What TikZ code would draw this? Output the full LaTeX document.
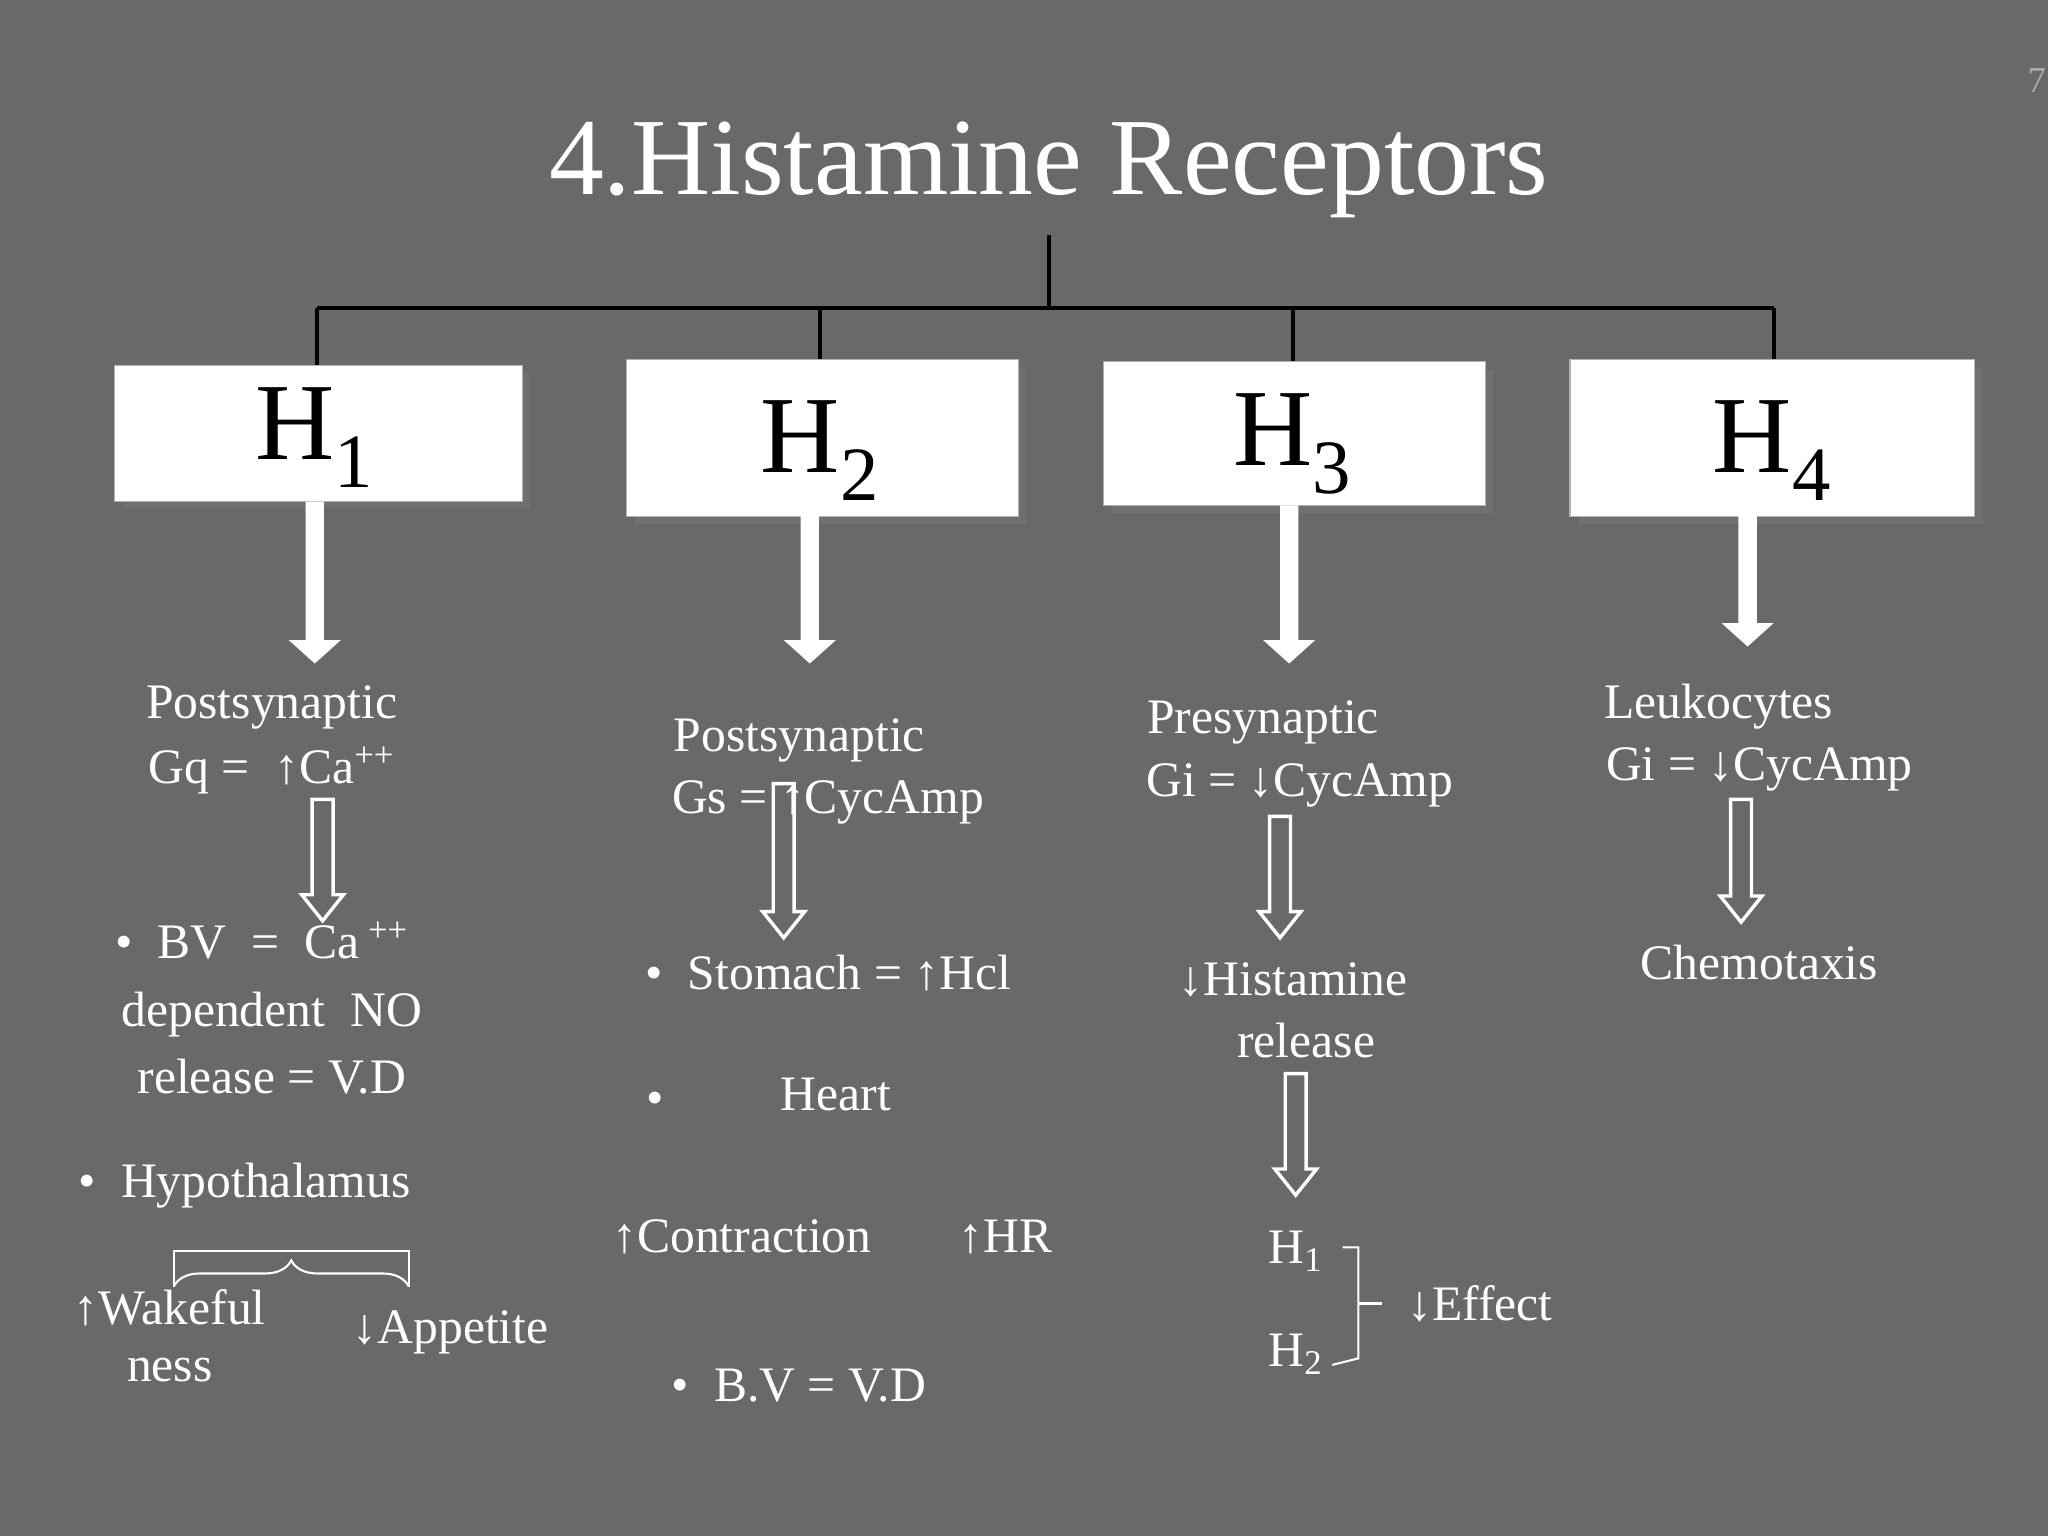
\documentclass[tikz,border=0pt]{standalone}
\usepackage{fontspec}
\setmainfont{Liberation Serif}
\usetikzlibrary{shadows,decorations.pathreplacing}
\begin{document}
\begin{tikzpicture}[x=0.5pt,y=-0.5pt,
  txt/.style={text=white,font=\fontsize{19}{22}\selectfont,inner sep=0pt,align=center},
  hbox/.style={fill=white,draw=gray!60,drop shadow={shadow xshift=3pt,shadow yshift=-3pt,opacity=0.35}},
  hlab/.style={font=\fontsize{42}{44}\selectfont,inner sep=0pt},
  tree/.style={line width=1.6pt,black},
  fat/.style={fill=white},
  hol/.style={draw=white,line width=1.3pt},
  brc/.style={draw=white,line width=0.8pt,decorate,decoration={brace,amplitude=10pt}}]
\fill[fill={rgb,255:red,105;green,104;blue,106}] (0,0) rectangle (1568,1176);
\node[text={rgb,255:red,170;green,170;blue,170},font=\fontsize{14}{14}\selectfont,anchor=west,inner sep=0pt] (pg) at (1552,62) {7};
\node[text=white,font=\fontsize{42}{44}\selectfont,inner sep=0pt] (title) at (803,130) {4.Histamine Receptors};
% boxes
\node[hbox,minimum width=156pt,minimum height=52pt,inner sep=0pt] (b1) at (244,332) {};
\node[hbox,minimum width=150pt,minimum height=60pt,inner sep=0pt] (b2) at (629.5,335.5) {};
\node[hbox,minimum width=146pt,minimum height=55pt,inner sep=0pt] (b3) at (991,332) {};
\node[hbox,minimum width=155pt,minimum height=60pt,inner sep=0pt] (b4) at (1357,335.5) {};
\node[hlab] at (241,335) {H\textsubscript{1}};
\node[hlab] at (628,345) {H\textsubscript{2}};
\node[hlab] at (990,340) {H\textsubscript{3}};
\node[hlab] at (1357,345) {H\textsubscript{4}};
% tree
\coordinate (t0) at (803,180);
\coordinate (t1) at (803,236);
\draw[tree] (t0) -- (t1);
\draw[tree] (243,236) -- (1358,236);
\draw[tree] (243,236) -- (b1.north -| 243,0);
\draw[tree] (628,236) -- (b2.north -| 628,0);
\draw[tree] (990,236) -- (b3.north -| 990,0);
\draw[tree] (1358,236) -- (b4.north -| 1358,0);
% fat arrows
\foreach \x/\a/\b in {241/384/508,620/395/508,987/387/508,1338/395/495}{
  \fill[fat] (\x-7,\a) -- (\x+7,\a) -- (\x+7,\b-18) -- (\x+20,\b-18) -- (\x,\b) -- (\x-20,\b-18) -- (\x-7,\b-18) -- cycle;}
% hollow arrows
\foreach \x/\a/\b in {247/612/705,600/600/718,980/625/718,992/822/915,1333/612/706}{
  \draw[hol] (\x-8,\a) -- (\x+8,\a) -- (\x+8,\b-20) -- (\x+16,\b-20) -- (\x,\b) -- (\x-16,\b-20) -- (\x-8,\b-20) -- cycle;}
% H1 column
\node[txt] (p1) at (208,542) {Postsynaptic};
\node[txt] (g1) at (208,590) {Gq =\ \ ↑Ca\textsuperscript{++}};
\node[txt,anchor=west] (bv) at (88,720) {•\ \ BV\ \ =\ \ Ca\textsuperscript{ ++}};
\node[txt] (dep) at (208,777) {dependent\ \ NO};
\node[txt] (rel) at (208,824) {release = V.D};
\node[txt,anchor=west] (hyp) at (60,908) {•\ \ Hypothalamus};
\draw[brc] (133,985) -- (313,985);
\draw[white,line width=0.8pt] (133,985) -- (133,958) -- (313,958) -- (313,985);
\node[txt] (wak) at (130,1001) {↑Wakeful};
\node[txt] (ness) at (130,1049) {ness};
\node[txt] (app) at (345,1020) {↓Appetite};
% H2 column
\node[txt] (p2) at (612,567) {Postsynaptic};
\node[txt] (g2) at (634,614) {Gs = ↑CycAmp};
\node[txt,anchor=west] (sto) at (494,745) {•\ \ Stomach = ↑Hcl};
\node[txt] (dot2) at (502,845) {•};
\node[txt] (hea) at (640,838) {Heart};
\node[txt] (con) at (568,947) {↑Contraction};
\node[txt] (hr) at (770,947) {↑HR};
\node[txt,anchor=west] (bv2) at (514,1061) {•\ \ B.V = V.D};
% H3 column
\node[txt] (p3) at (967,553) {Presynaptic};
\node[txt] (g3) at (995,601) {Gi = ↓CycAmp};
\node[txt] (his) at (990,750) {↓Histamine};
\node[txt] (rel3) at (1000,797) {release};
\node[txt] (h1) at (992,958) {H\textsubscript{1}};
\node[txt] (h2) at (992,1037) {H\textsubscript{2}};
\draw[white,line width=0.8pt] (1028,955) -- (1040,955) -- (1040,1040) -- (1020,1045);
\draw[white,line width=0.8pt] (1040,998) -- (1058,998);
\node[txt] (eff) at (1133,998) {↓Effect};
% H4 column
\node[txt] (leu) at (1316,541) {Leukocytes};
\node[txt] (g4) at (1347,589) {Gi = ↓CycAmp};
\node[txt] (che) at (1347,737) {Chemotaxis};
\end{tikzpicture}
\end{document}
